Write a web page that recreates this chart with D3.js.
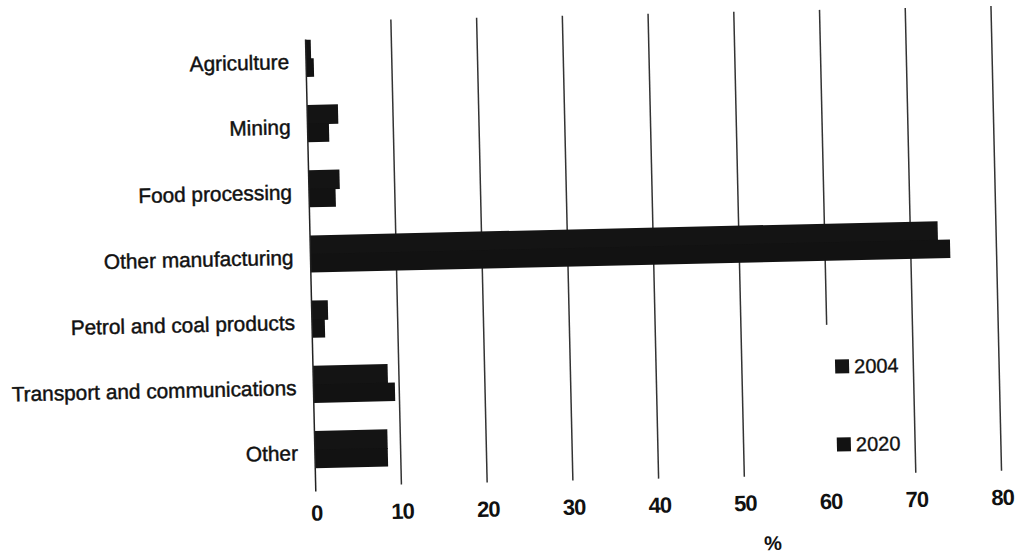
<!DOCTYPE html>
<html>
<head>
<meta charset="utf-8">
<script src="https://cdn.jsdelivr.net/npm/d3@7/dist/d3.min.js"></script>
<style>
  html, body { margin: 0; padding: 0; background: #fff; }
  svg { display: block; }
  text { font-family: "Liberation Sans", Arial, sans-serif; fill: #111; }
</style>
</head>
<body>
<svg id="chart" width="1016" height="555"></svg>
<script>
// Sector shares (%), 2004 vs 2020
const categories = [
  "Agriculture",
  "Mining",
  "Food processing",
  "Other manufacturing",
  "Petrol and coal products",
  "Transport and communications",
  "Other"
];
const seriesNames = ["2004", "2020"];
const values2004 = [0.6, 3.6, 3.6, 73.2, 1.9, 8.7, 8.5];
const values2020 = [0.9, 2.5, 3.1, 74.6, 1.5, 9.5, 8.5];
const tickValues = [0, 10, 20, 30, 40, 50, 60, 70, 80];
const axisTitle = "%";

const seriesValues = { "2004": values2004, "2020": values2020 };
const seriesColors = { "2004": "#141414", "2020": "#121212" };

const svg = d3.select("#chart");
const W = 1016, H = 555;

// the printed page sits slightly askew
const root = svg.append("g").attr("transform", `rotate(-1.3, ${W / 2}, ${H / 2})`);

const plotLeft = 311, plotRight = 997, plotTop = 17, plotBottom = 482;

const x = d3.scaleLinear().domain([0, 80]).range([plotLeft, plotRight]);
const y = d3.scaleBand().domain(categories).range([plotTop, plotBottom])
  .paddingInner(0.43).paddingOuter(0.28);
const ySub = d3.scaleBand().domain(seriesNames).range([0, y.bandwidth()]);

// vertical gridlines
root.append("g")
  .selectAll("line")
  .data(tickValues.filter(d => d > 0))
  .join("line")
  .attr("x1", d => x(d)).attr("x2", d => x(d))
  .attr("y1", plotTop).attr("y2", plotBottom)
  .attr("stroke", "#333")
  .attr("stroke-width", 1.5);

// legend panel masks the gridline behind it
const legendX = 840;
root.append("rect")
  .attr("x", 808).attr("y", 332)
  .attr("width", 96).attr("height", plotBottom - 332 + 2)
  .attr("fill", "#fff");

// bars; the upper bar of each pair runs 1px under the lower one so no seam shows
const groups = root.append("g")
  .selectAll("g")
  .data(categories)
  .join("g")
  .attr("transform", d => `translate(0,${y(d)})`);

groups.selectAll("rect")
  .data((c, i) => seriesNames.map(s => ({ s, v: seriesValues[s][i] })))
  .join("rect")
  .attr("x", x(0))
  .attr("y", d => ySub(d.s))
  .attr("width", d => x(d.v) - x(0))
  .attr("height", d => ySub.bandwidth() + (d.s === seriesNames[0] ? 1 : 0))
  .attr("fill", d => seriesColors[d.s]);

// category axis line
root.append("line")
  .attr("x1", x(0)).attr("x2", x(0))
  .attr("y1", 35).attr("y2", plotBottom + 5)
  .attr("stroke", "#222")
  .attr("stroke-width", 1.5);

// category labels
root.append("g")
  .selectAll("text")
  .data(categories)
  .join("text")
  .attr("x", 294)
  .attr("y", d => y(d) + y.bandwidth() / 2 + 3)
  .attr("dy", "0.35em")
  .attr("text-anchor", "end")
  .attr("font-size", 20.8)
  .attr("stroke", "#111")
  .attr("stroke-width", 0.45)
  .text(d => d);

// value axis tick labels
const xAxis = d3.axisBottom(x).tickValues(tickValues).tickSize(0).tickPadding(0)
  .tickFormat(d3.format("d"));
const axisG = root.append("g")
  .attr("transform", `translate(0,${plotBottom + 32})`)
  .call(xAxis);
axisG.select(".domain").remove();
axisG.selectAll("text")
  .attr("font-family", "'Liberation Sans', Arial, sans-serif")
  .attr("font-size", 22)
  .attr("font-weight", "bold")
  .attr("letter-spacing", -1)
  .attr("fill", "#111")
  .attr("dy", "0.1em");

// axis title
root.append("text")
  .attr("x", 767)
  .attr("y", 556)
  .attr("text-anchor", "middle")
  .attr("font-size", 20)
  .attr("font-weight", "bold")
  .text(axisTitle);

// legend
const legendY = { "2004": 374, "2020": 452 };
const legend = root.append("g")
  .selectAll("g")
  .data(seriesNames)
  .join("g")
  .attr("transform", d => `translate(${legendX},${legendY[d]})`);
legend.append("rect")
  .attr("x", -7).attr("y", -7)
  .attr("width", 14).attr("height", 14)
  .attr("fill", d => seriesColors[d]);
legend.append("text")
  .attr("x", 12)
  .attr("dy", "0.36em")
  .attr("font-size", 20)
  .attr("stroke", "#111")
  .attr("stroke-width", 0.35)
  .text(d => d);
</script>
</body>
</html>
